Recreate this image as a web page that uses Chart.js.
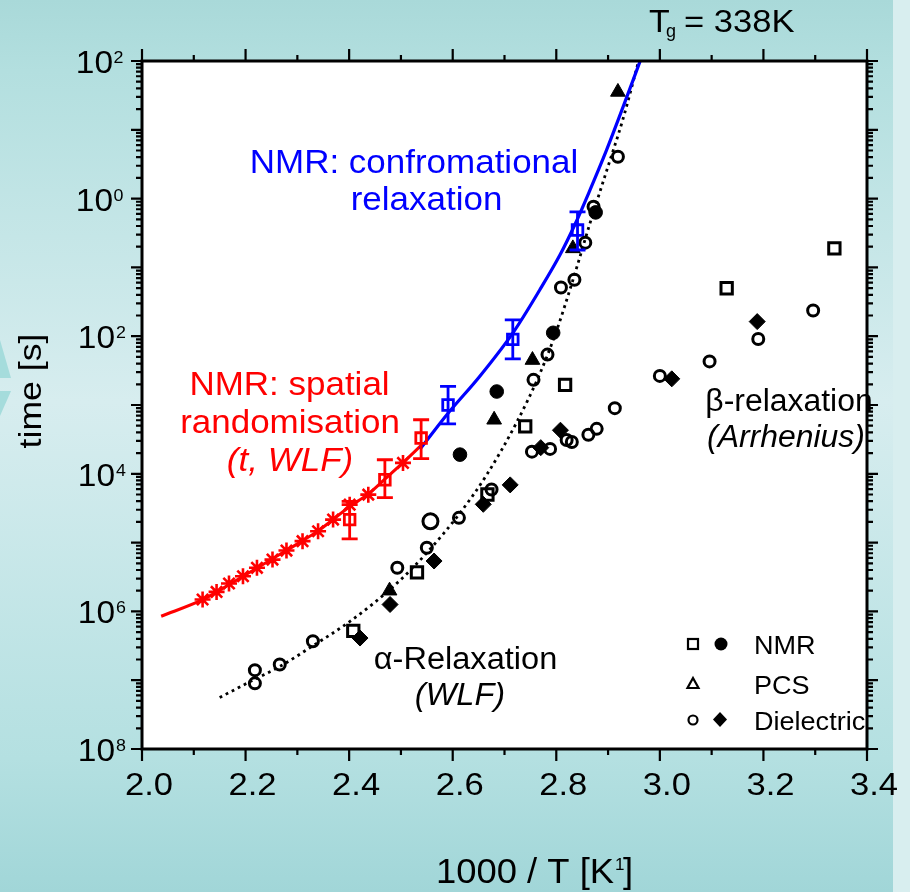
<!DOCTYPE html>
<html>
<head>
<meta charset="utf-8">
<style>
html,body{margin:0;padding:0;background:#cfeaeb;}
#wrap{position:relative;width:910px;height:892px;}
canvas{display:block;}
</style>
<script src="https://cdn.jsdelivr.net/npm/chart.js@4/dist/chart.umd.min.js"></script>
</head>
<body>
<div id="wrap"><canvas id="c" width="910" height="892"></canvas></div>
<script>
// ---------------- data ----------------
const xTickLabels = ['2.0','2.2','2.4','2.6','2.8','3.0','3.2','3.4'];
const yTickExponents = [2, 0, -2, -4, -6, -8];
const yTickExpText = ['2', '0', '2', '4', '6', '8'];   // minus signs are not visible in the reference

// Dielectric, open circles
const openCircleX = [2.218,2.218,2.266,2.330,2.493,2.550,2.612,2.675,2.753,2.756,2.783,2.788,2.809,2.820,2.830,2.835,2.856,2.862,2.872,2.878,2.913,2.919,3.000,3.096,3.190,3.296];
const openCircleY = [1.40e-7,9.0e-8,1.69e-7,3.69e-7,4.30e-6,8.4e-6,2.29e-5,5.9e-5,2.1e-4,2.32e-3,5.4e-3,2.3e-4,5.1e-2,3.1e-4,2.9e-4,6.6e-2,0.229,3.7e-4,0.76,4.5e-4,9.0e-4,4.05,2.65e-3,4.3e-3,9.1e-3,2.36e-2];
const bigCircleX = [2.557];
const bigCircleY = [2.04e-5];
// Dielectric, filled diamonds
const diamondX = [2.421,2.479,2.564,2.659,2.711,2.770,2.808,3.023,3.188];
const diamondY = [4.1e-7,1.26e-6,5.4e-6,3.6e-5,6.9e-5,2.4e-4,4.3e-4,2.4e-3,1.63e-2];
// NMR, open squares
const openSquareX = [2.408,2.531,2.667,2.740,2.817,3.129,3.337];
const openSquareY = [5.2e-7,3.7e-6,5.0e-5,4.9e-4,1.96e-3,4.98e-2,0.189];
// NMR, filled circles
const filledCircleX = [2.614,2.685,2.794,2.876];
const filledCircleY = [1.9e-4,1.57e-3,1.12e-2,0.63];
// PCS, filled triangles
const triangleX = [2.478,2.680,2.754,2.832,2.919];
const triangleY = [2.0e-6,6.1e-4,4.5e-3,0.189,35.5];
// NMR spatial randomisation (asterisks)
const starX = [2.117,2.144,2.168,2.195,2.222,2.252,2.279,2.310,2.340,2.369,2.401,2.437,2.504];
const starY = [1.49e-6,1.92e-6,2.54e-6,3.24e-6,4.30e-6,5.66e-6,7.66e-6,1.05e-5,1.46e-5,2.16e-5,3.56e-5,4.98e-5,1.44e-4];
// NMR spatial randomisation, squares with error bars
const redSqX  = [2.401,2.469,2.539];
const redSqY  = [2.16e-5,8.2e-5,3.31e-4];
const redSqLo = [1.13e-5,4.5e-5,1.66e-4];
const redSqHi = [3.98e-5,1.60e-4,6.1e-4];
// NMR conformational relaxation, squares with error bars
const blueSqX  = [2.591,2.716,2.841];
const blueSqY  = [1.0e-3,9.0e-3,0.349];
const blueSqLo = [5.3e-4,4.69e-3,0.179];
const blueSqHi = [1.86e-3,1.73e-2,0.643];
// curves
const redCurveX = [2.037,2.117,2.170,2.222,2.280,2.340,2.400,2.437,2.470,2.504,2.540];
const redCurveY = [8.5e-7,1.48e-6,2.5e-6,4.27e-6,7.8e-6,1.48e-5,3.3e-5,5.1e-5,8.5e-5,1.45e-4,2.63e-4];
const blueCurveX = [2.537,2.591,2.652,2.716,2.768,2.807,2.836,2.865,2.897,2.929,2.962];
const blueCurveY = [2.29e-4,7.6e-4,2.6e-3,1.11e-2,4.7e-2,0.151,0.42,1.33,5.06,21.5,100];
const wlfCurveX = [2.150,2.214,2.266,2.330,2.395,2.446,2.498,2.550,2.614,2.665,2.723,2.768,2.800,2.833,2.865,2.897,2.929,2.959];
const wlfCurveY = [5.6e-8,1.0e-7,1.58e-7,3.16e-7,6.6e-7,1.29e-6,2.82e-6,7.1e-6,2.69e-5,9.5e-5,5.5e-4,2.82e-3,1.17e-2,6.9e-2,0.436,2.51,14.5,100];

// ---------------- helpers ----------------
const pts = (xs, ys) => xs.map((x, i) => ({x: x, y: ys[i]}));
const FONT = '"Liberation Sans", Arial, Helvetica, sans-serif';
function txt(ctx, s, x, y, o) {
  o = o || {};
  ctx.save();
  ctx.font = (o.italic ? 'italic ' : '') + (o.size || 30) + 'px ' + FONT;
  ctx.fillStyle = o.color || '#000';
  ctx.textAlign = o.align || 'left';
  ctx.textBaseline = 'alphabetic';
  ctx.translate(x, y);
  if (o.rot) ctx.rotate(o.rot);
  ctx.scale(o.sx || 1, 1);
  ctx.fillText(s, 0, 0);
  ctx.restore();
}

const bgPlugin = {
  id: 'bg',
  beforeDraw(chart) {
    const ctx = chart.ctx, a = chart.chartArea;
    ctx.save();
    const g = ctx.createLinearGradient(0, 0, 0, 892);
    g.addColorStop(0, '#a9d9d9');
    g.addColorStop(0.08, '#b3dfdf');
    g.addColorStop(0.45, '#d7edef');
    g.addColorStop(0.85, '#b4e0e1');
    g.addColorStop(1, '#a1d6d8');
    ctx.fillStyle = g;
    ctx.fillRect(0, 0, 910, 892);
    ctx.fillStyle = '#d8eeef';
    ctx.fillRect(893, 0, 17, 892);
    // decorative arrow pieces at the left edge
    ctx.fillStyle = '#a5dcdc';
    ctx.beginPath(); ctx.moveTo(0, 340); ctx.lineTo(11, 378); ctx.lineTo(0, 378); ctx.closePath(); ctx.fill();
    ctx.beginPath(); ctx.moveTo(0, 391); ctx.lineTo(11, 391); ctx.lineTo(0, 416); ctx.closePath(); ctx.fill();
    ctx.fillStyle = '#ffffff';
    ctx.fillRect(a.left, a.top, a.right - a.left, a.bottom - a.top);
    ctx.restore();
  }
};

function drawErrorBars(ctx, xs, ys, los, his, color, xScale, yScale) {
  ctx.save();
  ctx.strokeStyle = color;
  ctx.lineWidth = 2.8;
  for (let i = 0; i < xs.length; i++) {
    const px = xScale.getPixelForValue(xs[i]);
    const p1 = yScale.getPixelForValue(los[i]);
    const p2 = yScale.getPixelForValue(his[i]);
    ctx.beginPath();
    ctx.moveTo(px, p1); ctx.lineTo(px, p2);
    ctx.moveTo(px - 8, p1); ctx.lineTo(px + 8, p1);
    ctx.moveTo(px - 8, p2); ctx.lineTo(px + 8, p2);
    ctx.stroke();
  }
  ctx.restore();
}

const overlayPlugin = {
  id: 'overlay',
  afterDatasetsDraw(chart) {
    const ctx = chart.ctx, xs = chart.scales.x, ys = chart.scales.y;
    drawErrorBars(ctx, redSqX, redSqY, redSqLo, redSqHi, '#ff0000', xs, ys);
    drawErrorBars(ctx, blueSqX, blueSqY, blueSqLo, blueSqHi, '#0000ff', xs, ys);
  },
  afterDraw(chart) {
    const ctx = chart.ctx, a = chart.chartArea, xs = chart.scales.x, ys = chart.scales.y;
    ctx.save();
    // frame
    ctx.strokeStyle = '#000';
    ctx.lineWidth = 3;
    ctx.strokeRect(a.left, a.top, a.right - a.left, a.bottom - a.top);
    // ticks
    ctx.lineWidth = 2.2;
    ctx.beginPath();
    for (let v = 20; v <= 34; v++) {
      const px = xs.getPixelForValue(v / 10);
      const len = (v % 2 === 0) ? 12 : 6;
      ctx.moveTo(px, a.bottom); ctx.lineTo(px, a.bottom + len);
      ctx.moveTo(px, a.top); ctx.lineTo(px, a.top - len);
    }
    for (let e = -8; e <= 2; e++) {
      const py = ys.getPixelForValue(Math.pow(10, e));
      ctx.moveTo(a.left, py); ctx.lineTo(a.left - 11, py);
      ctx.moveTo(a.right, py); ctx.lineTo(a.right + 11, py);
      if (e < 2) {
        for (let k = 2; k <= 9; k++) {
          const pm = ys.getPixelForValue(k * Math.pow(10, e));
          ctx.moveTo(a.left, pm); ctx.lineTo(a.left - 6, pm);
          ctx.moveTo(a.right, pm); ctx.lineTo(a.right + 6, pm);
        }
      }
    }
    ctx.stroke();
    // x tick labels
    xTickLabels.forEach((s) => {
      const px = xs.getPixelForValue(parseFloat(s));
      txt(ctx, s, px + 7, 795, {size: 32, align: 'center', sx: 1.08});
    });
    // y tick labels
    yTickExponents.forEach((e, i) => {
      const py = ys.getPixelForValue(Math.pow(10, e));
      const neg = e < 0;
      const baseRight = neg ? 115 : 113;
      txt(ctx, '10', baseRight, py + 12, {size: 31, align: 'right', sx: 1.08});
      txt(ctx, yTickExpText[i], neg ? 116 : 113.5, py + 2, {size: 17, align: 'left', sx: 1.05});
    });
    // axis titles
    txt(ctx, '1000 / T [K', 436, 883, {size: 35, sx: 1.04});
    ctx.font = '35px ' + FONT;
    const w = ctx.measureText('1000 / T [K').width * 1.04;
    txt(ctx, '1', 436 + w + 1, 870, {size: 17});
    txt(ctx, ']', 436 + w + 9, 883, {size: 35, sx: 1.04});
    txt(ctx, 'time [s]', 41, 391, {size: 31, align: 'center', rot: -Math.PI / 2, sx: 1.15});
    // Tg
    txt(ctx, 'T', 649, 31.5, {size: 32, sx: 1.06});
    txt(ctx, 'g', 666, 37, {size: 18});
    txt(ctx, '= 338K', 684, 31.5, {size: 32, sx: 1.08});
    // annotations
    txt(ctx, 'NMR: confromational', 414, 173, {size: 33, align: 'center', color: '#0000ff', sx: 1.06});
    txt(ctx, 'relaxation', 426.5, 210, {size: 33, align: 'center', color: '#0000ff', sx: 1.06});
    txt(ctx, 'NMR: spatial', 289.5, 395, {size: 33, align: 'center', color: '#ff0000', sx: 1.06});
    txt(ctx, 'randomisation', 290, 433, {size: 33, align: 'center', color: '#ff0000', sx: 1.06});
    txt(ctx, '(t, WLF)', 290, 471, {size: 33, align: 'center', color: '#ff0000', italic: true, sx: 1.06});
    txt(ctx, 'α-Relaxation', 465.5, 669, {size: 31, align: 'center', sx: 1.05});
    txt(ctx, '(WLF)', 460, 705, {size: 31, align: 'center', italic: true, sx: 1.05});
    txt(ctx, 'β-relaxation', 789, 411, {size: 31, align: 'center', sx: 1.03});
    txt(ctx, '(Arrhenius)', 786, 447, {size: 31, align: 'center', italic: true, sx: 1.03});
    // legend
    ctx.lineWidth = 2.2;
    ctx.strokeStyle = '#000';
    ctx.fillStyle = '#000';
    ctx.strokeRect(688, 639, 10, 10);
    ctx.beginPath(); ctx.arc(721, 644, 6.5, 0, Math.PI * 2); ctx.fill();
    ctx.beginPath(); ctx.moveTo(693, 678); ctx.lineTo(698.5, 688); ctx.lineTo(687.5, 688); ctx.closePath(); ctx.stroke();
    ctx.beginPath(); ctx.arc(693, 720, 4.5, 0, Math.PI * 2); ctx.stroke();
    ctx.beginPath(); ctx.moveTo(720, 712); ctx.lineTo(727, 719.5); ctx.lineTo(720, 727); ctx.lineTo(713, 719.5); ctx.closePath(); ctx.fill();
    txt(ctx, 'NMR', 754, 654, {size: 26, sx: 1.04});
    txt(ctx, 'PCS', 754, 693.5, {size: 26, sx: 1.04});
    txt(ctx, 'Dielectric', 754, 730, {size: 26, sx: 1.04});
    ctx.restore();
  }
};

const blk = '#000000';
new Chart(document.getElementById('c').getContext('2d'), {
  type: 'scatter',
  data: {
    datasets: [
      {label: 'PCS', data: pts(triangleX, triangleY), pointStyle: 'triangle', pointRadius: 8.5, backgroundColor: blk, borderColor: blk, borderWidth: 1},
      {label: 'NMR (filled)', data: pts(filledCircleX, filledCircleY), pointStyle: 'circle', pointRadius: 6.8, backgroundColor: blk, borderColor: blk, borderWidth: 1},
      {label: 'Dielectric (filled)', data: pts(diamondX, diamondY), pointStyle: 'rectRot', pointRadius: 8, backgroundColor: blk, borderColor: blk, borderWidth: 1},
      {label: 'NMR (open)', data: pts(openSquareX, openSquareY), pointStyle: 'rect', pointRadius: 8, backgroundColor: 'rgba(0,0,0,0)', borderColor: blk, borderWidth: 3},
      {label: 'Dielectric (open)', data: pts(openCircleX, openCircleY), pointStyle: 'circle', pointRadius: 5.5, backgroundColor: 'rgba(0,0,0,0)', borderColor: blk, borderWidth: 3},
      {label: 'Dielectric (open, large)', data: pts(bigCircleX, bigCircleY), pointStyle: 'circle', pointRadius: 7.5, backgroundColor: 'rgba(0,0,0,0)', borderColor: blk, borderWidth: 3},
      {label: 'NMR conformational', data: pts(blueSqX, blueSqY), pointStyle: 'rect', pointRadius: 7.5, backgroundColor: 'rgba(0,0,0,0)', borderColor: '#0000ff', borderWidth: 2.8},
      {label: 'NMR spatial (squares)', data: pts(redSqX, redSqY), pointStyle: 'rect', pointRadius: 7.5, backgroundColor: 'rgba(0,0,0,0)', borderColor: '#ff0000', borderWidth: 2.8},
      {label: 'NMR spatial', data: pts(starX, starY), pointStyle: 'star', pointRadius: 8, backgroundColor: '#ff0000', borderColor: '#ff0000', borderWidth: 2.6},
      {label: 'conformational fit', type: 'line', data: pts(blueCurveX, blueCurveY), borderColor: '#0000ff', borderWidth: 3.2, pointRadius: 0, cubicInterpolationMode: 'monotone', fill: false},
      {label: 'spatial fit', type: 'line', data: pts(redCurveX, redCurveY), borderColor: '#ff0000', borderWidth: 3, pointRadius: 0, cubicInterpolationMode: 'monotone', fill: false},
      {label: 'WLF', type: 'line', data: pts(wlfCurveX, wlfCurveY), borderColor: blk, borderWidth: 2.8, borderDash: [2.8, 4], pointRadius: 0, cubicInterpolationMode: 'monotone', fill: false}
    ]
  },
  options: {
    responsive: false,
    animation: false,
    devicePixelRatio: 1,
    layout: {padding: {left: 142, top: 61, right: 43, bottom: 143}},
    plugins: {legend: {display: false}, tooltip: {enabled: false}},
    scales: {
      x: {type: 'linear', min: 2.0, max: 3.4, display: false},
      y: {type: 'logarithmic', min: 1e-8, max: 1e2, display: false}
    }
  },
  plugins: [bgPlugin, overlayPlugin]
});
</script>
</body>
</html>
